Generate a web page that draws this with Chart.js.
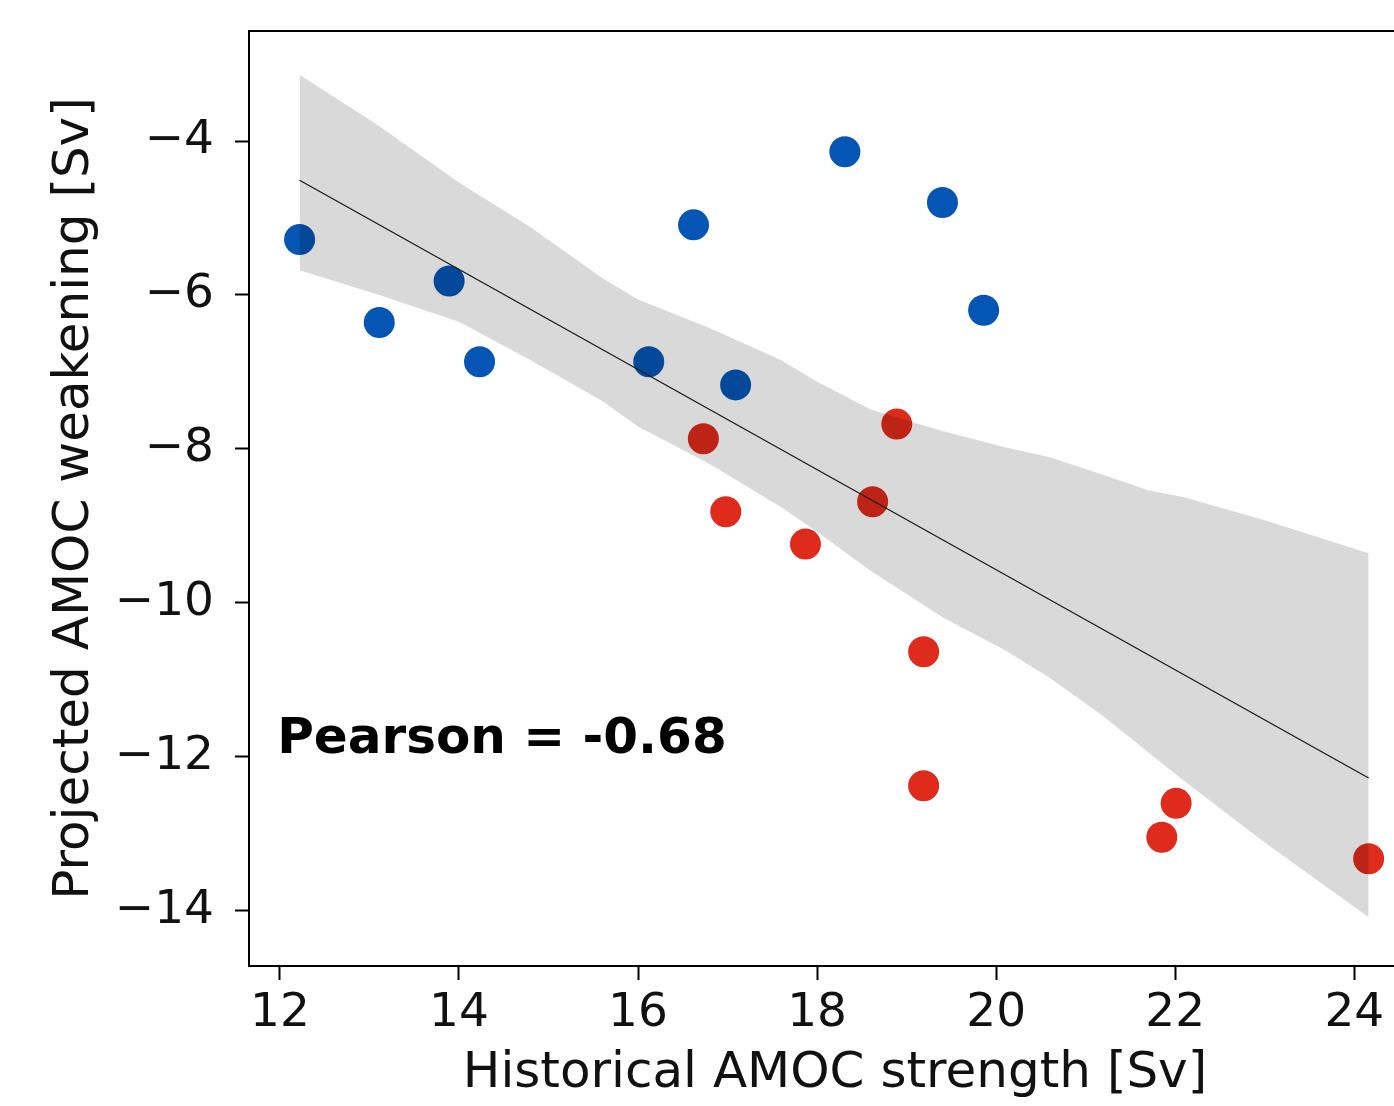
<!DOCTYPE html>
<html>
<head>
<meta charset="utf-8">
<script src="https://cdn.jsdelivr.net/npm/chart.js@4"></script>
<style>
  html, body { margin: 0; padding: 0; background: #fff; overflow: hidden; }
  #wrap { width: 1440px; height: 1106px; }
</style>
</head>
<body>
<div id="wrap"><canvas id="chart_amoc"></canvas></div>
<script>
// historical AMOC strength (x) vs projected weakening (y), Sv
const blue_x = [12.22, 13.11, 13.89, 14.23, 16.12, 16.62, 17.09, 18.31, 19.40, 19.86];
const blue_y = [-5.28, -6.36, -5.82, -6.87, -6.87, -5.09, -7.17, -4.14, -4.80, -6.20];
const red_x = [16.73, 16.98, 17.87, 18.62, 18.89, 19.19, 19.19, 22.01, 21.85, 24.16];
const red_y = [-7.87, -8.82, -9.24, -8.69, -7.68, -10.64, -12.38, -12.61, -13.05, -13.33];

// regression line and its confidence band
const fit_x = [12.22, 24.16];
const fit_y = [-4.51, -12.28];
const band_x = [12.22, 13.1, 14.0, 14.8, 15.6, 16.0, 16.8, 17.6, 18.0, 18.6, 19.4, 20.1, 20.6, 21.2, 21.7, 22.1, 23.0, 24.16];
const band_hi = [-3.14, -3.80, -4.54, -5.12, -5.78, -6.06, -6.43, -6.85, -7.13, -7.49, -7.77, -7.98, -8.11, -8.34, -8.54, -8.63, -8.93, -9.36];
const band_lo = [-5.68, -6.00, -6.35, -6.85, -7.38, -7.71, -8.20, -8.76, -9.08, -9.59, -10.19, -10.62, -10.98, -11.48, -11.95, -12.32, -13.12, -14.09];

const x_ticks = [12, 14, 16, 18, 20, 22, 24];
const y_ticks = [-14, -12, -10, -8, -6, -4];

const pearson_text = "Pearson = -0.68";

const colors = {
    blue: '#0556b4',
    red: '#df2b1b',
    band: 'rgba(0, 0, 0, 0.15)',
    line: '#1a1a1a'
};

function pairs(xs, ys) {
    return xs.map(function (x, i) {
        return {x: x, y: ys[i]};
    });
}

const fontFamily = "'DejaVu Sans', sans-serif";

// top and right spines plus the Pearson note
const framePlugin = {
    id: 'frame',
    afterDatasetsDraw: function (chart) {
        const ctx = chart.ctx;
        const a = chart.chartArea;
        ctx.save();
        ctx.font = "bold 50px " + fontFamily;
        ctx.fillStyle = '#000';
        ctx.textBaseline = 'alphabetic';
        ctx.textAlign = 'left';
        ctx.fillText(pearson_text, chart.scales.x.getPixelForValue(11.97), chart.scales.y.getPixelForValue(-11.96));
        ctx.strokeStyle = '#000';
        ctx.lineWidth = 2;
        ctx.beginPath();
        ctx.moveTo(a.left, a.top);
        ctx.lineTo(a.right, a.top);
        ctx.lineTo(a.right, a.bottom);
        ctx.stroke();
        ctx.restore();
    }
};

function render_chart() {
    const ctx = document.getElementById('chart_amoc').getContext('2d');
    const chart = new Chart(ctx, {
        type: 'scatter',
        data: {
            datasets: [
                {
                    type: 'line',
                    label: 'fit',
                    data: pairs(fit_x, fit_y),
                    borderColor: colors.line,
                    borderWidth: 1.3,
                    pointRadius: 0,
                    fill: false,
                    order: 0
                },
                {
                    type: 'line',
                    label: 'band upper',
                    data: pairs(band_x, band_hi),
                    borderWidth: 0,
                    borderColor: 'rgba(0,0,0,0)',
                    backgroundColor: colors.band,
                    pointRadius: 0,
                    fill: '+1',
                    order: 1
                },
                {
                    type: 'line',
                    label: 'band lower',
                    data: pairs(band_x, band_lo),
                    borderWidth: 0,
                    borderColor: 'rgba(0,0,0,0)',
                    pointRadius: 0,
                    fill: false,
                    order: 2
                },
                {
                    label: 'blue',
                    data: pairs(blue_x, blue_y),
                    backgroundColor: colors.blue,
                    borderWidth: 0,
                    pointRadius: 15.5,
                    order: 3
                },
                {
                    label: 'red',
                    data: pairs(red_x, red_y),
                    backgroundColor: colors.red,
                    borderWidth: 0,
                    pointRadius: 15.5,
                    order: 4
                }
            ]
        },
        options: {
            responsive: true,
            maintainAspectRatio: false,
            animation: false,
            layout: {
                padding: {top: 31, right: 19, left: 0, bottom: 0}
            },
            plugins: {
                legend: {display: false},
                tooltip: {enabled: false}
            },
            scales: {
                x: {
                    type: 'linear',
                    min: 11.655,
                    max: 24.745,
                    afterFit: function (scale) {
                        scale.height = 140;
                        scale.paddingLeft = 0;
                        scale.paddingRight = 0;
                    },
                    afterBuildTicks: function (scale) {
                        scale.ticks = x_ticks.map(function (v) { return {value: v}; });
                    },
                    grid: {drawOnChartArea: false, drawTicks: true, tickLength: 14, tickWidth: 2, tickColor: '#000'},
                    border: {display: true, color: '#000', width: 2},
                    ticks: {
                        color: '#111',
                        padding: 6,
                        autoSkip: false,
                        maxRotation: 0,
                        font: {family: fontFamily, size: 47},
                        callback: function (v) { return String(v); }
                    },
                    title: {
                        display: true,
                        text: 'Historical AMOC strength [Sv]',
                        color: '#111',
                        font: {family: fontFamily, size: 50},
                        padding: {top: 0, bottom: 2}
                    }
                },
                y: {
                    type: 'linear',
                    min: -14.724,
                    max: -2.57,
                    afterFit: function (scale) {
                        scale.width = 249;
                        scale.paddingTop = 0;
                        scale.paddingBottom = 0;
                    },
                    afterBuildTicks: function (scale) {
                        scale.ticks = y_ticks.map(function (v) { return {value: v}; });
                    },
                    grid: {drawOnChartArea: false, drawTicks: true, tickLength: 14, tickWidth: 2, tickColor: '#000'},
                    border: {display: true, color: '#000', width: 2},
                    ticks: {
                        color: '#111',
                        padding: 21,
                        autoSkip: false,
                        font: {family: fontFamily, size: 47},
                        callback: function (v) { return String(v).replace('-', '\u2212'); }
                    },
                    title: {
                        display: true,
                        text: 'Projected AMOC weakening [Sv]',
                        color: '#111',
                        font: {family: fontFamily, size: 50},
                        padding: {top: 45, bottom: 0}
                    }
                }
            }
        },
        plugins: [framePlugin]
    });
    return chart;
}

render_chart();
</script>
</body>
</html>
